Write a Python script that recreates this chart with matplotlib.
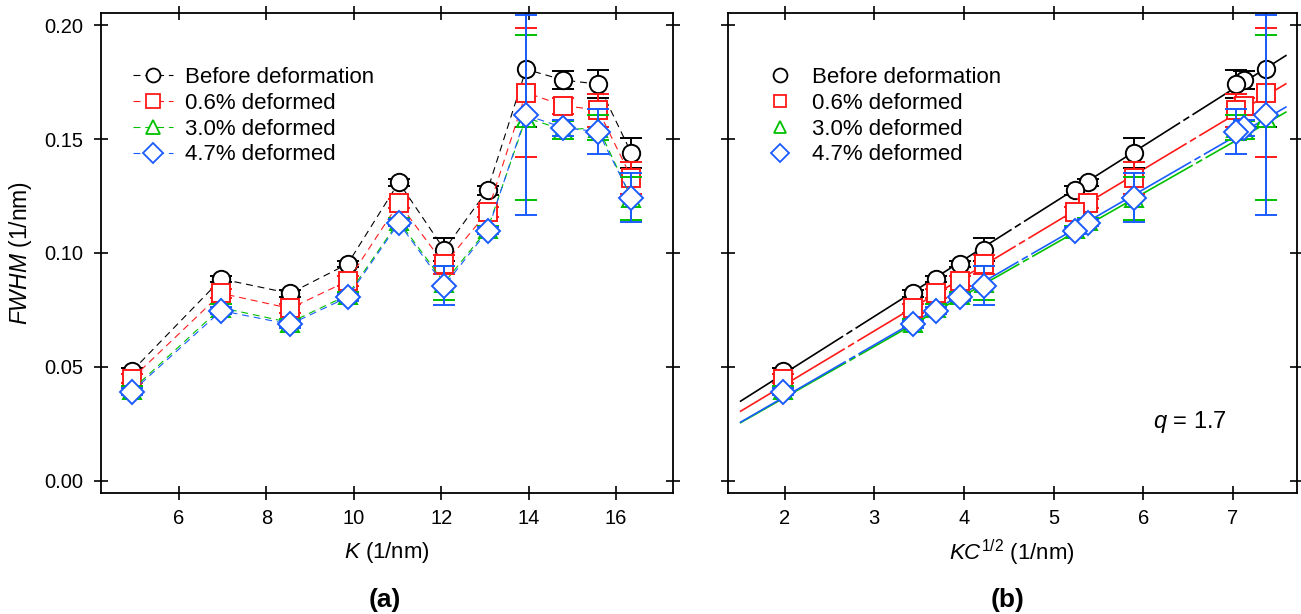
import numpy as np
import matplotlib
matplotlib.use('Agg')
import matplotlib.pyplot as plt
from matplotlib.lines import Line2D
from matplotlib.ticker import FormatStrFormatter, FixedLocator

plt.rcParams['font.family'] = ['Liberation Sans', 'DejaVu Sans']
plt.rcParams['mathtext.fontset'] = 'custom'
plt.rcParams['mathtext.rm'] = 'Liberation Sans'
plt.rcParams['mathtext.it'] = 'Liberation Sans:italic'
plt.rcParams['mathtext.bf'] = 'Liberation Sans:bold'
plt.rcParams['lines.scale_dashes'] = False

# ---------------- data ----------------
K = [4.93, 6.97, 8.54, 9.86, 11.03, 12.07, 13.06, 13.94, 14.79, 15.59, 16.35]
KC_sqrt = [1.985, 3.69, 3.43, 3.96, 5.38, 4.22, 5.24, 7.37, 7.13, 7.04, 5.90]

labels = ['Before deformation', '0.6% deformed', '3.0% deformed', '4.7% deformed']

fwhm_before = [0.0482, 0.0886, 0.0823, 0.0952, 0.1310, 0.1015, 0.1276, 0.1806, 0.1759, 0.1741, 0.1437]
err_before = [0.0015, 0.0015, 0.0015, 0.0015, 0.0015, 0.0050, 0.0020, 0.0252, 0.0039, 0.0062, 0.0066]

fwhm_06 = [0.0449, 0.0823, 0.0757, 0.0877, 0.1219, 0.0950, 0.1180, 0.1704, 0.1647, 0.1627, 0.1330]
err_06 = [0.0020, 0.0020, 0.0020, 0.0020, 0.0020, 0.0040, 0.0020, 0.0282, 0.0035, 0.0072, 0.0070]

fwhm_30 = [0.0400, 0.0760, 0.0695, 0.0815, 0.1140, 0.0870, 0.1105, 0.1594, 0.1540, 0.1550, 0.1240]
err_30 = [0.0015, 0.0015, 0.0015, 0.0015, 0.0015, 0.0075, 0.0015, 0.0362, 0.0040, 0.0055, 0.0095]

fwhm_47 = [0.0392, 0.0747, 0.0687, 0.0806, 0.1132, 0.0857, 0.1097, 0.1605, 0.1550, 0.1532, 0.1243]
err_47 = [0.0015, 0.0015, 0.0015, 0.0015, 0.0015, 0.0085, 0.0015, 0.0438, 0.0035, 0.0098, 0.0108]

# linear fits in panel (b): slope, intercept
fit_slope = [0.02492, 0.02361, 0.02239, 0.02272]
fit_intercept = [-0.00258, -0.00502, -0.00819, -0.00848]
fit_x = [1.5, 7.6]

x_ticks_a = [6, 8, 10, 12, 14, 16]
x_ticks_b = [2, 3, 4, 5, 6, 7]
y_ticks = [0.00, 0.05, 0.10, 0.15, 0.20]

values = [fwhm_before, fwhm_06, fwhm_30, fwhm_47]
errors = [err_before, err_06, err_30, err_47]
colors = ['#000000', '#ff1a1a', '#00c000', '#1a5cff']
markers = ['o', 's', '^', 'D']

W, H = 1301, 614
fig = plt.figure(figsize=(W / 100, H / 100), dpi=100)
ax1 = fig.add_axes([101 / W, 1 - 493 / H, 572 / W, 480 / H])
ax2 = fig.add_axes([727.7 / W, 1 - 493 / H, 569 / W, 480 / H])

MS = 12.5
for ax in (ax1, ax2):
    ax.set_ylim(-0.0053, 0.2053)
    ax.yaxis.set_major_locator(FixedLocator(y_ticks))
    ax.tick_params(direction='inout', length=10, width=1.2, top=True, right=True,
                   labelsize=14.5, pad=6.5)
    ax.tick_params(axis='y', pad=8)
    for s in ax.spines.values():
        s.set_linewidth(1.3)

# ---- panel (a) ----
for v, e, c, m in zip(values, errors, colors, markers):
    ax1.plot(K, v, color=c, lw=0.8, dashes=(5, 3.5))
    ax1.errorbar(K, v, yerr=e, fmt='none', ecolor=c, elinewidth=1.4, capsize=8, capthick=1.4)
    ax1.plot(K, v, linestyle='none', marker=m, ms=MS, mfc='white', mec=c, mew=1.4)

ax1.set_xlim(4.22, 17.3)
ax1.xaxis.set_major_locator(FixedLocator(x_ticks_a))
ax1.yaxis.set_major_formatter(FormatStrFormatter('%.2f'))
ax1.set_xlabel(r'$K$ (1/nm)', fontsize=16, labelpad=9)
ax1.set_ylabel(r'$FWHM$ (1/nm)', fontsize=16.5, labelpad=7)

handles_a = [Line2D([], [], color=c, lw=0.8, dashes=(5, 3.5), marker=m, ms=10,
                    mfc='white', mec=c, mew=1.3) for c, m in zip(colors, markers)]
ax1.legend(handles_a, labels, loc='upper left', bbox_to_anchor=(0.056, 0.888),
           frameon=False, fontsize=16, borderpad=0, borderaxespad=0,
           handlelength=1.8, handletextpad=0.55, labelspacing=0.22)

# ---- panel (b) ----
xf = np.array(fit_x)
for a, b, c in zip(fit_slope, fit_intercept, colors):
    ax2.plot(xf, a * xf + b, color=c, lw=1.2, linestyle=(45, (133, 2.8, 5, 2.8)))

for v, e, c, m in zip(values, errors, colors, markers):
    ax2.errorbar(KC_sqrt, v, yerr=e, fmt='none', ecolor=c, elinewidth=1.4, capsize=8, capthick=1.4)
    ax2.plot(KC_sqrt, v, linestyle='none', marker=m, ms=MS, mfc='white', mec=c, mew=1.4)

ax2.set_xlim(1.364, 7.713)
ax2.xaxis.set_major_locator(FixedLocator(x_ticks_b))
ax2.tick_params(axis='y', labelleft=False)
ax2.set_xlabel(r'$KC^{\mathregular{1/2}}$ (1/nm)', fontsize=16, labelpad=7)

legend_ms_b = [10, 8.5, 9, 9.4]
handles_b = [Line2D([], [], linestyle='none', marker=m, ms=s, mfc='white', mec=c, mew=1.3)
             for c, m, s in zip(colors, markers, legend_ms_b)]
ax2.legend(handles_b, labels, loc='upper left', bbox_to_anchor=(0.0726, 0.888),
           frameon=False, fontsize=16, borderpad=0, borderaxespad=0,
           handlelength=1.0, handletextpad=0.95, labelspacing=0.22)

ax2.text(0.7475, 0.148, r'$q$ = 1.7', transform=ax2.transAxes, fontsize=17,
         ha='left', va='center')

fig.text(385 / W, 1 - 600 / H, '(a)', fontsize=19, fontweight='bold', ha='center', va='center')
fig.text(1008 / W, 1 - 600 / H, '(b)', fontsize=19, fontweight='bold', ha='center', va='center')

fig.savefig('out.png', dpi=100)
